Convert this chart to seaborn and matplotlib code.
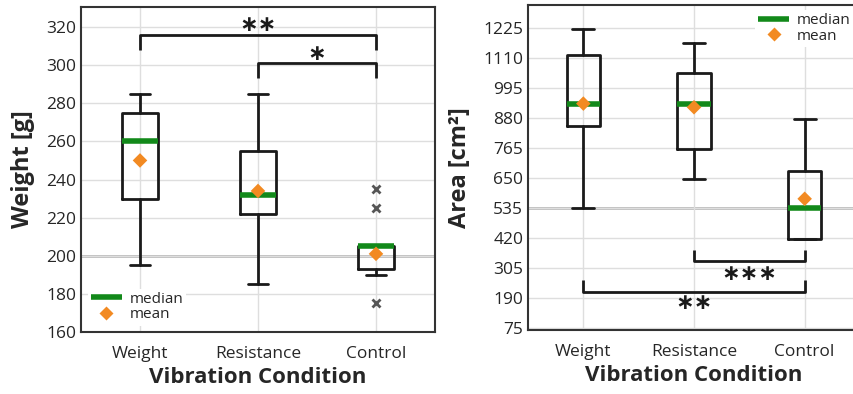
import numpy as np
import pandas as pd
import matplotlib.pyplot as plt
from matplotlib.lines import Line2D
from matplotlib.ticker import MultipleLocator
import seaborn as sns

# data (box plot summary values)
conditions = ['Weight', 'Resistance', 'Control']

weight_whislo = [195, 185, 190]
weight_q1 = [230, 222, 193]
weight_med = [260, 232, 205]
weight_q3 = [275, 255, 205]
weight_whishi = [285, 285, 205]
weight_mean = [250, 234, 201]
weight_fliers = [[], [], [235, 225, 175]]

area_whislo = [535, 646, 416]
area_q1 = [848, 762, 416]
area_med = [935, 935, 535]
area_q3 = [1123, 1052, 676]
area_whishi = [1222, 1167, 877]
area_mean = [935, 921, 570]
area_fliers = [[], [], []]

# significance brackets: (from, to, bar level, tip level, text level, stars)
weight_brackets = [(0, 2, 316, 308, 321, '\u2217\u2217'), (1, 2, 301, 293, 306, '\u2217')]
area_brackets = [(1, 2, 331, 373, 282, '\u2217\u2217\u2217'), (0, 2, 214, 258, 171, '\u2217\u2217')]

sns.set_theme(style='white')
plt.rcParams['font.family'] = ['Open Sans', 'DejaVu Sans']

GREEN = '#12891a'
ORANGE = '#f28a22'
DARK = '#1a1a1a'


def make_stats(lo, q1, med, q3, hi, fliers):
    stats = []
    for i in range(len(conditions)):
        stats.append({'whislo': lo[i], 'q1': q1[i], 'med': med[i], 'q3': q3[i],
                      'whishi': hi[i], 'fliers': fliers[i], 'label': conditions[i]})
    return stats


def draw_panel(ax, stats, means, capw, ref, brackets):
    ax.bxp(stats, positions=range(len(conditions)), widths=0.3, capwidths=capw,
           showfliers=True, patch_artist=False,
           boxprops=dict(color=DARK, linewidth=2),
           whiskerprops=dict(color=DARK, linewidth=2),
           capprops=dict(color=DARK, linewidth=2),
           medianprops=dict(color=GREEN, linewidth=4, solid_capstyle='butt', zorder=4),
           flierprops=dict(marker='x', markeredgecolor='#555555', markersize=6,
                           markeredgewidth=2))
    df = pd.DataFrame({'pos': range(len(conditions)), 'mean': means})
    sns.scatterplot(data=df, x='pos', y='mean', marker='D', color=ORANGE, s=55,
                    edgecolor='none', zorder=5, ax=ax)
    ax.axhline(ref, color='#aaaaaa', linewidth=1.8, zorder=0.5)
    ax.grid(True, color='#dedede', linewidth=1, zorder=0)
    ax.set_axisbelow(True)
    for a, b, bar, tip, txt, stars in brackets:
        ax.plot([a, a, b, b], [tip, bar, bar, tip], color=DARK, linewidth=2,
                solid_capstyle='butt')
        ax.text((a + b) / 2, txt, stars, ha='center', va='center', family='DejaVu Sans',
                fontsize=16, fontweight='bold', color=DARK)
    ax.set_xlim(-0.5, 2.5)
    ax.set_xticks(range(len(conditions)))
    ax.set_xticklabels(conditions, fontsize=13)
    for s in ax.spines.values():
        s.set_color('#333333')
        s.set_linewidth(1.5)


fig = plt.figure(figsize=(8.54, 3.94), dpi=100)
ax1 = fig.add_axes([81 / 854, 62 / 394, 354 / 854, 325 / 394])
ax2 = fig.add_axes([528 / 854, 64 / 394, 332 / 854, 325 / 394])

draw_panel(ax1, make_stats(weight_whislo, weight_q1, weight_med, weight_q3,
                           weight_whishi, weight_fliers),
           weight_mean, 0.17, 200, weight_brackets)
ax1.set_ylim(160, 330.5)
ax1.set_yticks(np.arange(160, 321, 20))
ax1.xaxis.set_minor_locator(MultipleLocator(0.5))
ax1.tick_params(axis='both', which='both', direction='in', length=3, width=1.2,
                color='#333333', labelsize=12.5)
ax1.tick_params(axis='x', pad=10)
ax1.set_ylabel('Weight [g]', fontsize=17, fontweight='bold', labelpad=8)
ax1.set_xlabel('Vibration Condition', fontsize=16, fontweight='bold', labelpad=4)

draw_panel(ax2, make_stats(area_whislo, area_q1, area_med, area_q3,
                           area_whishi, area_fliers),
           area_mean, 0.2, 535, area_brackets)
ax2.set_ylim(67, 1313)
ax2.set_yticks(np.arange(75, 1226, 115))
ax2.yaxis.set_minor_locator(MultipleLocator(23))
ax2.tick_params(axis='both', which='major', direction='in', length=7, width=1.2,
                color='#333333', labelsize=12.5)
ax2.tick_params(axis='y', which='minor', direction='in', length=4, width=1,
                color='#333333')
ax2.tick_params(axis='x', pad=10)
ax2.spines['right'].set_visible(False)
ax2.set_ylabel('Area [cm\u00b2]', fontsize=17, fontweight='bold', labelpad=8)
ax2.set_xlabel('Vibration Condition', fontsize=16, fontweight='bold', labelpad=4)

handles = [Line2D([], [], color=GREEN, linewidth=4, solid_capstyle='butt'),
           Line2D([], [], color=ORANGE, marker='D', linestyle='none', markersize=7,
                  markeredgecolor='none')]
ax1.legend(handles, ['median', 'mean'], loc='lower left', bbox_to_anchor=(0.02, 0.02),
           fontsize=11, frameon=True, framealpha=1, edgecolor='none', handlelength=2,
           handletextpad=0.5, labelspacing=0.05, borderpad=0.2, borderaxespad=0)
ax2.legend(handles, ['median', 'mean'], loc='upper right', bbox_to_anchor=(0.98, 0.985),
           fontsize=11, frameon=True, framealpha=1, edgecolor='none', handlelength=2,
           handletextpad=0.5, labelspacing=0.05, borderpad=0.2, borderaxespad=0)

fig.savefig('out.png', dpi=100)
